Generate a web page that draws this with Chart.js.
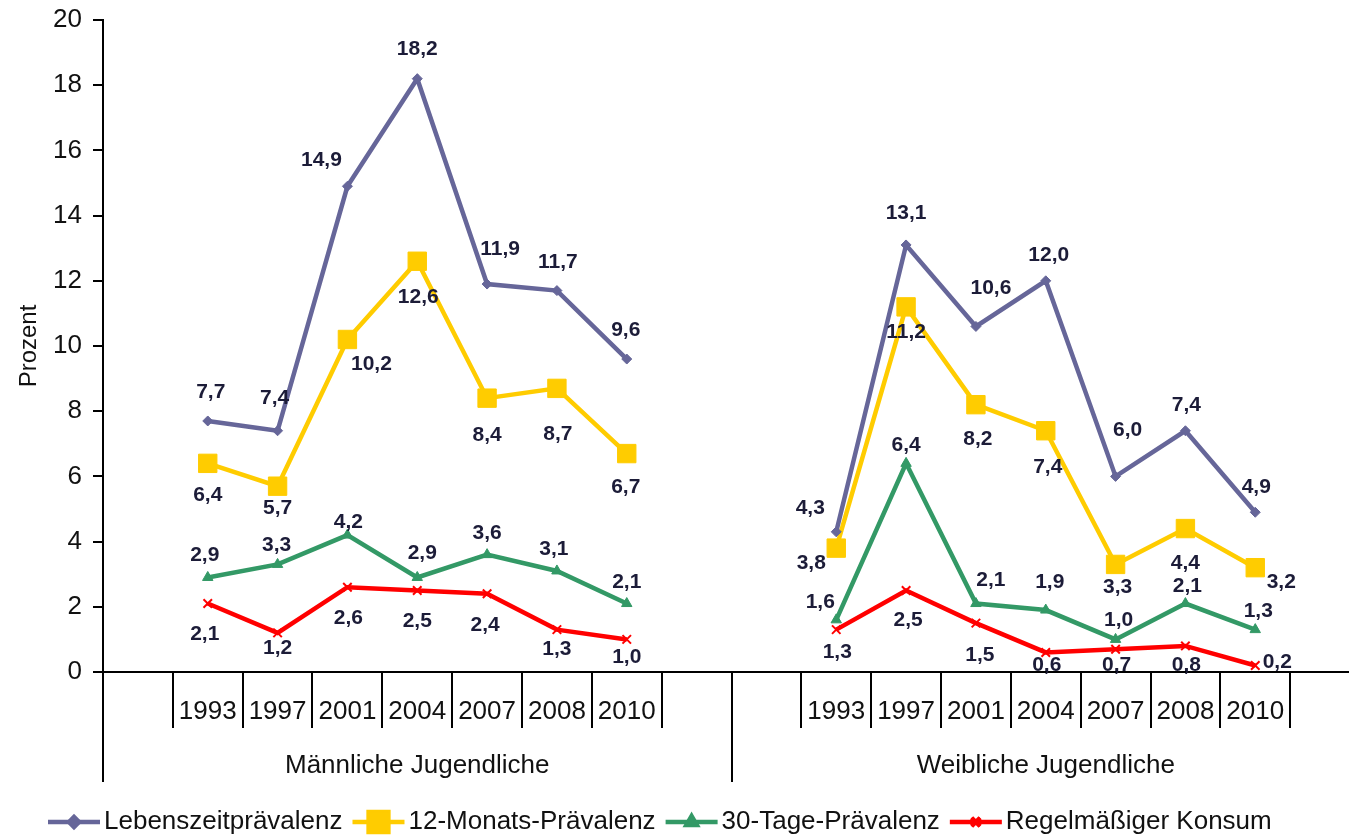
<!DOCTYPE html>
<html>
<head>
<meta charset="utf-8">
<script src="https://cdn.jsdelivr.net/npm/chart.js@4.4.0/dist/chart.umd.min.js"></script>
<style>
    html, body { margin: 0; padding: 0; background: #fff; overflow: hidden; }
    #wrap { width: 1374px; height: 837px; position: relative; }
</style>
</head>
<body>
<div id="wrap"><canvas id="chart"></canvas></div>
<script>
// Daten
const jahre = ['1993', '1997', '2001', '2004', '2007', '2008', '2010'];
const gruppen = ['Männliche Jugendliche', 'Weibliche Jugendliche'];
const serien = ['Lebenszeitprävalenz', '12-Monats-Prävalenz', '30-Tage-Prävalenz', 'Regelmäßiger Konsum'];

const lebenszeitM = [7.7, 7.4, 14.9, 18.2, 11.9, 11.7, 9.6];
const lebenszeitW = [4.3, 13.1, 10.6, 12.0, 6.0, 7.4, 4.9];
const monateM = [6.4, 5.7, 10.2, 12.6, 8.4, 8.7, 6.7];
const monateW = [3.8, 11.2, 8.2, 7.4, 3.3, 4.4, 3.2];
const tageM = [2.9, 3.3, 4.2, 2.9, 3.6, 3.1, 2.1];
const tageW = [1.6, 6.4, 2.1, 1.9, 1.0, 2.1, 1.3];
const konsumM = [2.1, 1.2, 2.6, 2.5, 2.4, 1.3, 1.0];
const konsumW = [1.3, 2.5, 1.5, 0.6, 0.7, 0.8, 0.2];

const yMin = 0, yMax = 20, yStep = 2;

// Label-Versatz (px) je Punkt: [dx, dy]
const versatz = [
    [[3,-29],[-3,-33],[-26,-26],[0,-29],[13,-35],[1,-28],[-1,-29],   [-26,-24],[0,-32],[15,-38],[3,-26],[12,-46],[1,-26],[1,-25]],
    [[0,32],[0,22],[24,25],[1,36],[0,37],[1,46],[-1,34],             [-25,15],[0,25],[2,35],[2,36],[2,23],[0,35],[26,15]],
    [[-3,-22],[-1,-19],[1,-13],[5,-24],[0,-21],[-3,-22],[0,-21],     [-16,-18],[0,-18],[15,-23],[4,-28],[3,-19],[2,-17],[3,-18]],
    [[-3,31],[0,15],[1,31],[0,31],[-2,31],[0,20],[0,18],             [1,23],[2,30],[4,32],[1,13],[1,16],[1,19],[22,-3]]
];

// Kategorien: leer | Männer | leer leer | Frauen | leer
const kategorien = ['', ...jahre, '', '', ...jahre, ''];
const reihe = (m, w) => [null, ...m, null, null, ...w, null];

const farben = ['#666699', '#FFCC00', '#339966', '#FF0000'];
const punkte = [
    { pointStyle: 'rectRot', pointRadius: 5, pointBorderWidth: 1 },
    { pointStyle: 'rect', pointRadius: 13, pointBorderWidth: 1 },
    { pointStyle: 'triangle', pointRadius: 6, pointBorderWidth: 1 },
    { pointStyle: 'crossRot', pointRadius: 6, pointBorderWidth: 2 }
];
const werte = [reihe(lebenszeitM, lebenszeitW), reihe(monateM, monateW), reihe(tageM, tageW), reihe(konsumM, konsumW)];

const FONT = '"Liberation Sans", Arial, sans-serif';

const wertLabels = {
    id: 'wertLabels',
    afterDatasetsDraw(chart) {
        const ctx = chart.ctx;
        ctx.save();
        ctx.font = 'bold 21px ' + FONT;
        ctx.fillStyle = '#1c1c38';
        ctx.textAlign = 'center';
        ctx.textBaseline = 'middle';
        chart.data.datasets.forEach((ds, di) => {
            const meta = chart.getDatasetMeta(di);
            let n = 0;
            ds.data.forEach((v, i) => {
                if (v === null) return;
                const p = meta.data[i];
                const [dx, dy] = versatz[di][n++];
                ctx.fillText(v.toFixed(1).replace('.', ','), p.x + dx, p.y + dy);
            });
        });
        ctx.restore();
    }
};

const achsen = {
    id: 'achsen',
    afterDraw(chart) {
        const ctx = chart.ctx;
        const x = chart.scales.x;
        const ca = chart.chartArea;
        const half = (x.getPixelForValue(1) - x.getPixelForValue(0)) / 2;
        ctx.save();
        ctx.strokeStyle = '#000';
        ctx.lineWidth = 2;
        // kurze Trennstriche um die Jahreszahlen
        [1, 10].forEach(s => {
            for (let k = 0; k <= jahre.length; k++) {
                const xb = Math.round(x.getPixelForValue(s + k) - half);
                ctx.beginPath();
                ctx.moveTo(xb, ca.bottom);
                ctx.lineTo(xb, ca.bottom + 56);
                ctx.stroke();
            }
        });
        // lange Linien
        [ca.left, Math.round(x.getPixelForValue(8) + half)].forEach(xb => {
            ctx.beginPath();
            ctx.moveTo(xb, ca.bottom);
            ctx.lineTo(xb, ca.bottom + 110);
            ctx.stroke();
        });
        // Gruppennamen
        ctx.font = '26px ' + FONT;
        ctx.fillStyle = '#111';
        ctx.textAlign = 'center';
        ctx.textBaseline = 'middle';
        [1, 10].forEach((s, g) => {
            const cx = (x.getPixelForValue(s) + x.getPixelForValue(s + jahre.length - 1)) / 2;
            ctx.fillText(gruppen[g], cx, ca.bottom + 94);
        });

        // Legende
        let lx = 48;
        const ly = ca.bottom + 150;
        serien.forEach((name, i) => {
            ctx.strokeStyle = farben[i];
            ctx.lineWidth = 4.5;
            ctx.beginPath();
            ctx.moveTo(lx, ly);
            ctx.lineTo(lx + 52, ly);
            ctx.stroke();
            Chart.helpers.drawPoint(ctx, {
                pointStyle: punkte[i].pointStyle,
                radius: i === 1 ? 14 : punkte[i].pointRadius,
                borderWidth: punkte[i].pointBorderWidth,
                rotation: 0
            }, lx + 26, ly);
            ctx.fillStyle = farben[i];
            ctx.lineWidth = punkte[i].pointBorderWidth;
            ctx.fill();
            ctx.stroke();
            ctx.font = '26px ' + FONT;
            ctx.fillStyle = '#111';
            ctx.textAlign = 'left';
            ctx.fillText(name, lx + 56, ly);
            lx += 56 + ctx.measureText(name).width + 10;
        });
        ctx.restore();
    }
};

new Chart(document.getElementById('chart'), {
    type: 'line',
    data: {
        labels: kategorien,
        datasets: serien.map((name, i) => ({
            label: name,
            data: werte[i],
            borderColor: farben[i],
            backgroundColor: farben[i],
            pointBackgroundColor: farben[i],
            pointBorderColor: farben[i],
            borderWidth: 4.5,
            spanGaps: false,
            tension: 0,
            ...punkte[i]
        }))
    },
    options: {
        responsive: true,
        maintainAspectRatio: false,
        animation: false,
        events: [],
        layout: { padding: { left: 0, right: 3, top: 20, bottom: 55 } },
        plugins: {
            legend: { display: false },
            tooltip: { enabled: false }
        },
        scales: {
            x: {
                type: 'category',
                offset: true,
                grid: { display: false, drawTicks: false },
                border: { display: true, color: '#000', width: 2 },
                ticks: {
                    autoSkip: false,
                    maxRotation: 0,
                    padding: 24,
                    color: '#111',
                    font: { family: FONT, size: 26 }
                },
                afterFit(scale) { scale.height = 110; }
            },
            y: {
                min: yMin,
                max: yMax,
                ticks: {
                    stepSize: yStep,
                    padding: 11,
                    color: '#111',
                    font: { family: FONT, size: 26 }
                },
                grid: { drawOnChartArea: false, drawTicks: true, tickLength: 10, color: '#000', lineWidth: 2 },
                border: { display: true, color: '#000', width: 2 },
                title: {
                    display: true,
                    text: 'Prozent',
                    color: '#111',
                    padding: { top: 15, bottom: 0 },
                    font: { family: FONT, size: 24 }
                },
                afterFit(scale) {
                    scale.width = 103;
                    scale.paddingTop = 0;
                    scale.paddingBottom = 0;
                }
            }
        }
    },
    plugins: [wertLabels, achsen]
});
</script>
</body>
</html>
